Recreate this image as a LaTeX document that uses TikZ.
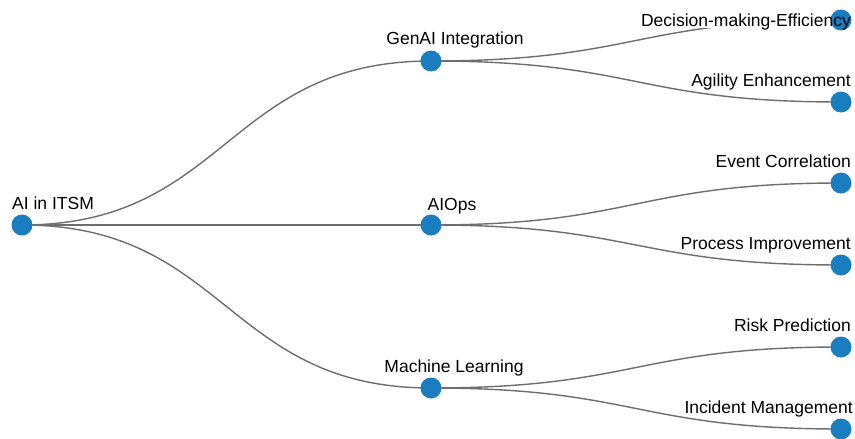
\documentclass[tikz,border=0pt]{standalone}
\usepackage{fontspec}
\setmainfont{Liberation Sans}
\usetikzlibrary{backgrounds}
\definecolor{nodeblue}{HTML}{1A7DC0}
\definecolor{edgegray}{HTML}{6E6E6E}
\begin{document}
\begin{tikzpicture}[x=1pt,y=-1pt,
  dot/.style={circle,fill=nodeblue,draw=none,minimum size=21pt,inner sep=0pt},
  lbl/.style={inner sep=0pt,font=\fontsize{17.5}{20}\selectfont,text=black},
  link/.style={draw=edgegray,line width=1.4pt}]
\useasboundingbox (0,0) rectangle (855,439);
% nodes
\node[dot] (r) at (22,225) {};
\node[dot] (g) at (431,61) {};
\node[dot] (a) at (431,225) {};
\node[dot] (m) at (431,388) {};
\node[dot] (l1) at (841,20) {};
\node[dot] (l2) at (841,102) {};
\node[dot] (l3) at (841,183) {};
\node[dot] (l4) at (841,265) {};
\node[dot] (l5) at (841,347) {};
\node[dot] (l6) at (841,429) {};
% labels
\node[lbl,anchor=base west] (tr) at (12,209) {AI in ITSM};
\node[lbl,anchor=base] (tg) at (455,45) {GenAI Integration};
\node[lbl,anchor=base] (ta) at (452,210) {AIOps};
\node[lbl,anchor=base] (tm) at (454,372) {Machine Learning};
\node[lbl,anchor=base east] (t1) at (851,26) {Decision-making-Efficiency};
\node[lbl,anchor=base east] (t2) at (851,86) {Agility Enhancement};
\node[lbl,anchor=base east] (t3) at (851,167) {Event Correlation};
\node[lbl,anchor=base east] (t4) at (851,249) {Process Improvement};
\node[lbl,anchor=base east] (t5) at (851,331) {Risk Prediction};
\node[lbl,anchor=base east] (t6) at (853,413) {Incident Management};
% links behind the dots and labels
\begin{scope}[on background layer]
\fill[white] (0,0) rectangle (855,439);
\path[link] (r.center) .. controls +(204.5,0) and +(-204.5,0) .. (g.center);
\path[link] (r.center) -- (a.center);
\path[link] (r.center) .. controls +(204.5,0) and +(-204.5,0) .. (m.center);
\path[link] (g.center) .. controls +(205,0) and +(-205,0) .. (l2.center);
\path[link] (a.center) .. controls +(205,0) and +(-205,0) .. (l3.center);
\path[link] (a.center) .. controls +(205,0) and +(-205,0) .. (l4.center);
\path[link] (m.center) .. controls +(205,0) and +(-205,0) .. (l5.center);
\path[link] (m.center) .. controls +(205,0) and +(-205,0) .. (l6.center);
% the top link runs hidden beneath its label
\begin{scope}
\clip (0,0) -- (855,0) -- (855,439) -- (0,439) -- cycle
  ([yshift=-2pt]t1.base west) -- ([yshift=-2pt]t1.base east) -- (t1.north east) -- (t1.north west) -- cycle;
\path[link] (g.center) .. controls +(205,0) and +(-205,0) .. (l1.center);
\end{scope}
\end{scope}
\end{tikzpicture}
\end{document}
